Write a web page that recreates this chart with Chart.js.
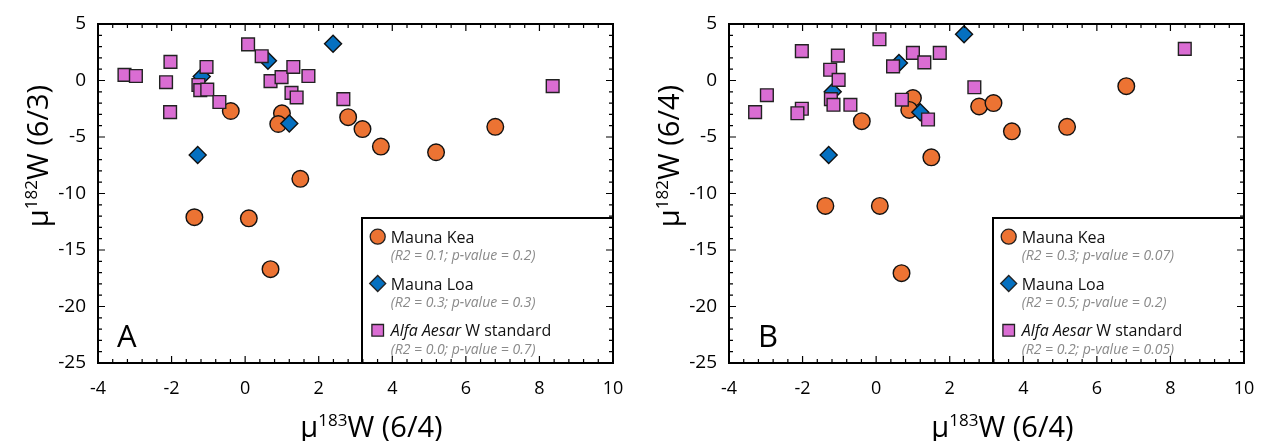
<!DOCTYPE html>
<html>
<head>
<meta charset="utf-8">
<script src="https://cdn.jsdelivr.net/npm/chart.js@4.4.0/dist/chart.umd.min.js"></script>
<style>
  body { margin: 0; background: #fff; width: 1262px; height: 441px; overflow: hidden; position: relative; }
  .panel { position: absolute; top: 0; width: 631px; height: 441px; }
</style>
</head>
<body>
<div class="panel" style="left:0"><canvas id="chartA" width="631" height="441"></canvas></div>
<div class="panel" style="left:631px"><canvas id="chartB" width="631" height="441"></canvas></div>
<script>
// μ183W (6/4), shared by both panels
const keaX = [-1.38, 0.10, 0.69, -0.39, 1.00, 0.90, 2.80, 3.19, 3.69, 5.19, 6.80, 1.50];
const keaY63 = [-12.1, -12.2, -16.7, -2.7, -2.9, -3.85, -3.25, -4.3, -5.85, -6.35, -4.1, -8.7];
const keaY64 = [-11.1, -11.1, -17.05, -3.6, -1.55, -2.6, -2.3, -2.0, -4.5, -4.1, -0.5, -6.8];

const loaX = [-1.18, 0.62, 2.39, 1.20, -1.29];
const loaY63 = [0.35, 1.75, 3.25, -3.8, -6.6];
const loaY64 = [-1.0, 1.55, 4.1, -2.8, -6.6];

const alfaXA = [-3.28, -2.97, -2.03, -2.15, -2.04, -1.05, -1.27, -1.22, -1.03, -0.70, 0.08, 0.45, 0.69, 0.99, 1.31, 1.72, 1.26, 1.40, 2.67, 8.36];
const alfaYA = [0.5, 0.4, 1.65, -0.15, -2.8, 1.2, -0.4, -0.85, -0.8, -1.9, 3.2, 2.15, -0.05, 0.3, 1.2, 0.4, -1.1, -1.5, -1.65, -0.5];
const alfaXB = [-3.29, -2.97, -2.02, -2.02, -2.14, -1.25, -1.04, -1.02, -1.23, -1.16, -0.70, 0.09, 0.46, 0.70, 1.00, 1.31, 1.73, 1.41, 2.67, 8.39];
const alfaYB = [-2.8, -1.3, 2.6, -2.5, -2.9, 0.95, 2.2, 0.05, -1.65, -2.15, -2.15, 3.65, 1.25, -1.7, 2.45, 1.6, 2.45, -3.45, -0.6, 2.8];

const statsA = ["(R2 = 0.1; p-value = 0.2)", "(R2 = 0.3; p-value = 0.3)", "(R2 = 0.0; p-value = 0.7)"];
const statsB = ["(R2 = 0.3; p-value = 0.07)", "(R2 = 0.5; p-value = 0.2)", "(R2 = 0.2; p-value = 0.05)"];

const xMin = -4, xMax = 10, xStep = 2, xMinor = 0.4;
const yMin = -25, yMax = 5, yStep = 5, yMinor = 1;

const keaColor = "#EC7333";
const loaColor = "#0570C0";
const alfaColor = "#DA6DD3";
const FONT = '"Open Sans", "Noto Sans", sans-serif';

function toPts(xs, ys) {
  return xs.map((x, i) => ({ x: x, y: ys[i] }));
}

function marker(ctx, style, x, y, r, fill) {
  ctx.beginPath();
  if (style === "circle") {
    ctx.arc(x, y, r, 0, Math.PI * 2);
  } else if (style === "diamond") {
    ctx.moveTo(x - r, y); ctx.lineTo(x, y - r); ctx.lineTo(x + r, y); ctx.lineTo(x, y + r); ctx.closePath();
  } else {
    ctx.rect(x - r, y - r, 2 * r, 2 * r);
  }
  ctx.fillStyle = fill;
  ctx.fill();
  ctx.lineWidth = 1.3;
  ctx.strokeStyle = "#222";
  ctx.stroke();
}

// μ + superscript mass number + rest
function muLabel(ctx, iso, rest, cx, baseline) {
  const big = "29px " + FONT, small = "17px " + FONT;
  ctx.font = big;
  const w1 = ctx.measureText("μ").width, w3 = ctx.measureText(rest).width;
  ctx.font = small;
  const w2 = ctx.measureText(iso).width;
  const x0 = cx - (w1 + w2 + w3) / 2;
  ctx.textAlign = "left";
  ctx.textBaseline = "alphabetic";
  ctx.fillStyle = "#000";
  ctx.font = big; ctx.fillText("μ", x0, baseline);
  ctx.font = small; ctx.fillText(iso, x0 + w1, baseline - 11);
  ctx.font = big; ctx.fillText(rest, x0 + w1 + w2, baseline);
}

const frame = {
  id: "frame",
  afterDatasetsDraw(chart, args, opts) {
    const ctx = chart.ctx, a = chart.chartArea, xs = chart.scales.x, ys = chart.scales.y;
    ctx.save();

    // legend box
    const bx = a.left + 264, by = a.top + 194;
    ctx.lineWidth = 2;
    ctx.strokeStyle = "#000";
    ctx.strokeRect(bx, by, a.right - bx, a.bottom - by);
    const styles = [["circle", keaColor, 7.5], ["diamond", loaColor, 8], ["square", alfaColor, 5.8]];
    const names = ["Mauna Kea", "Mauna Loa", null];
    for (let i = 0; i < 3; i++) {
      const row = by + i * 46.8;
      marker(ctx, styles[i][0], bx + 15.7, row + 18.7, styles[i][2], styles[i][1]);
      ctx.fillStyle = "#111";
      ctx.textAlign = "left";
      ctx.textBaseline = "alphabetic";
      if (names[i]) {
        ctx.font = "16px " + FONT;
        ctx.fillText(names[i], bx + 28.7, row + 24.7);
      } else {
        ctx.font = "italic 16px " + FONT;
        ctx.fillText("Alfa Aesar", bx + 28.7, row + 24.7);
        const w = ctx.measureText("Alfa Aesar ").width;
        ctx.font = "16px " + FONT;
        ctx.fillText("W standard", bx + 28.7 + w, row + 24.7);
      }
      ctx.fillStyle = "#8a8a8a";
      ctx.font = "italic 14px " + FONT;
      ctx.fillText(opts.stats[i], bx + 28.7, row + 42);
    }

    // inward ticks on all four sides
    ctx.strokeStyle = "#000";
    ctx.lineWidth = 1.2;
    ctx.beginPath();
    const nx = Math.round((xMax - xMin) / xMinor);
    for (let i = 0; i <= nx; i++) {
      const px = xs.getPixelForValue(xMin + i * xMinor);
      const len = i % 5 === 0 ? 7 : 4;
      ctx.moveTo(px, a.bottom); ctx.lineTo(px, a.bottom - len);
      ctx.moveTo(px, a.top); ctx.lineTo(px, a.top + len);
    }
    const ny = Math.round((yMax - yMin) / yMinor);
    for (let i = 0; i <= ny; i++) {
      const py = ys.getPixelForValue(yMin + i * yMinor);
      const len = i % 5 === 0 ? 7 : 4;
      ctx.moveTo(a.left, py); ctx.lineTo(a.left + len, py);
      ctx.moveTo(a.right, py); ctx.lineTo(a.right - len, py);
    }
    ctx.stroke();
    ctx.lineWidth = 2;
    ctx.strokeRect(a.left, a.top, a.right - a.left, a.bottom - a.top);

    // panel letter
    ctx.fillStyle = "#000";
    ctx.font = "31px " + FONT;
    ctx.textAlign = "left";
    ctx.textBaseline = "alphabetic";
    ctx.fillText(opts.letter, opts.letterX, 347);

    // axis titles
    muLabel(ctx, "183", "W (6/4)", (a.left + a.right) / 2 + 16, 437);
    ctx.translate(48, 156);
    ctx.rotate(-Math.PI / 2);
    muLabel(ctx, "182", opts.yRest, 0, 0);
    ctx.restore();
  }
};

function makeChart(id, keaY, loaY, alfaX, alfaY, opts) {
  return new Chart(document.getElementById(id), {
    type: "scatter",
    data: {
      datasets: [
        { label: "Alfa Aesar W standard", data: toPts(alfaX, alfaY), pointStyle: "rect", pointRadius: 9,
          backgroundColor: alfaColor, borderColor: "#222", borderWidth: 1.4, order: 0 },
        { label: "Mauna Loa", data: toPts(loaX, loaY), pointStyle: "rectRot", pointRadius: 8.5,
          backgroundColor: loaColor, borderColor: "#111", borderWidth: 1.4, order: 1 },
        { label: "Mauna Kea", data: toPts(keaX, keaY), pointStyle: "circle", pointRadius: 8.3,
          backgroundColor: keaColor, borderColor: "#111", borderWidth: 1.4, order: 2 }
      ]
    },
    options: {
      responsive: false,
      animation: false,
      devicePixelRatio: 1,
      events: [],
      layout: { padding: { top: 24, right: 18, left: 0, bottom: 0 } },
      plugins: { legend: { display: false }, tooltip: { enabled: false }, frame: opts },
      scales: {
        x: {
          type: "linear", min: xMin, max: xMax,
          ticks: { stepSize: xStep, color: "#000", font: { family: FONT, size: 18 }, padding: 15, maxRotation: 0 },
          grid: { display: false, drawTicks: false }, border: { display: false },
          afterFit(s) { s.height = 78; s.paddingLeft = 10; s.paddingRight = 10; }
        },
        y: {
          type: "linear", min: yMin, max: yMax,
          ticks: { stepSize: yStep, color: "#000", font: { family: FONT, size: 19 }, padding: 12 },
          grid: { display: false, drawTicks: false }, border: { display: false },
          afterFit(s) { s.width = 98; s.paddingTop = 10; s.paddingBottom = 10; }
        }
      }
    },
    plugins: [frame]
  });
}

makeChart("chartA", keaY63, loaY63, alfaXA, alfaYA, { stats: statsA, letter: "A", letterX: 117, yRest: "W (6/3)" });
makeChart("chartB", keaY64, loaY64, alfaXB, alfaYB, { stats: statsB, letter: "B", letterX: 127, yRest: "W (6/4)" });
</script>
</body>
</html>
